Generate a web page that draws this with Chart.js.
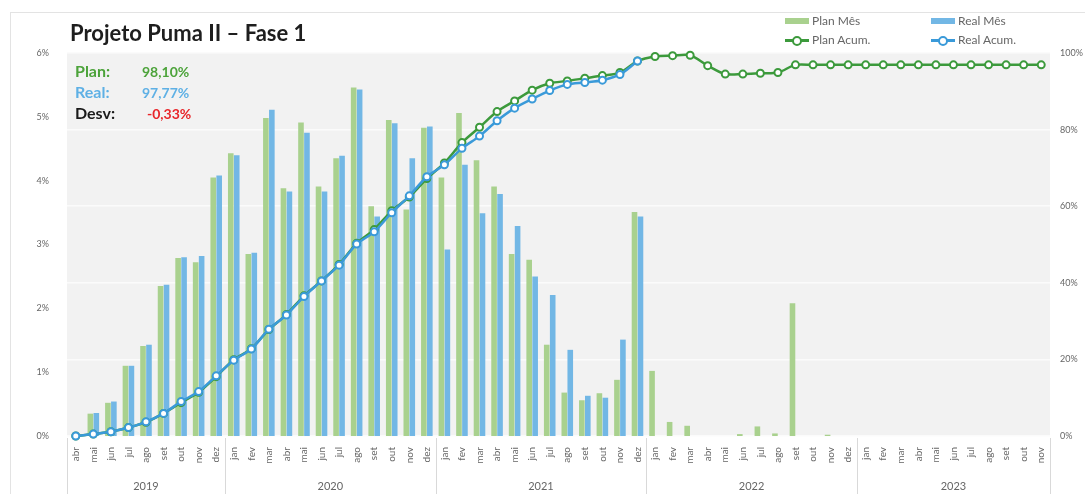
<!DOCTYPE html>
<html lang="pt">
<head>
<meta charset="utf-8">
<title>Projeto Puma II – Fase 1</title>
<script src="https://cdn.jsdelivr.net/npm/chart.js@4.4.1/dist/chart.umd.min.js"></script>
<style>
    html, body { margin: 0; padding: 0; background: #fff; }
    #wrap { position: relative; width: 1085px; height: 494px; overflow: hidden; font-family: Lato, 'Liberation Sans', sans-serif; }
    #frame { position: absolute; left: 10px; top: 12px; width: 1200px; height: 600px; border-left: 1px solid #e3e3e3; border-top: 1px solid #e3e3e3; }
    #chart { position: absolute; left: 0; top: 0; }
    #title { position: absolute; left: 70px; top: 20px; font-size: 22px; line-height: 26px; font-weight: bold; color: #1e1e1e; }
    .stat { position: absolute; left: 75px; font-size: 16px; line-height: 18px; font-weight: bold; }
    .stat span { position: absolute; left: 67px; top: 1px; font-size: 14px; white-space: nowrap; }
    .leg { position: absolute; font-size: 12px; line-height: 14px; color: #666; white-space: nowrap; }
    .leg i { position: absolute; left: 0; top: 4px; width: 24px; height: 6px; }
    .leg b { position: absolute; left: 0; top: 6px; width: 24px; height: 3px; }
    .leg b:after { content: ''; position: absolute; left: 7px; top: -3px; width: 6px; height: 6px; border-radius: 50%; background: #fff; border: 2px solid; border-color: inherit; }
    .leg em { font-style: normal; position: absolute; left: 27px; top: 0; }
</style>
</head>
<body>
<div id="wrap">
    <div id="frame"></div>
    <canvas id="chart" width="1085" height="494"></canvas>
    <div id="title">Projeto Puma II – Fase 1</div>
    <div class="stat" style="top:62px;color:#4ca33a">Plan:<span>98,10%</span></div>
    <div class="stat" style="top:83px;color:#5eb0e5">Real:<span>97,77%</span></div>
    <div class="stat" style="top:104px;color:#1a1a1a">Desv:<span style="color:#e8262a;left:72px">-0,33%</span></div>
    <div id="legend"></div>
</div>
<script>
// Months abr/2019 .. nov/2023
const months = [
    'abr','mai','jun','jul','ago','set','out','nov','dez',
    'jan','fev','mar','abr','mai','jun','jul','ago','set','out','nov','dez',
    'jan','fev','mar','abr','mai','jun','jul','ago','set','out','nov','dez',
    'jan','fev','mar','abr','mai','jun','jul','ago','set','out','nov','dez',
    'jan','fev','mar','abr','mai','jun','jul','ago','set','out','nov'
];
const years = ['2019', '2020', '2021', '2022', '2023'];
const yearMonths = [9, 12, 12, 12, 11];

// Monthly progress (%)
const planMes = [
    0, 0.35, 0.52, 1.10, 1.41, 2.35, 2.79, 2.72, 4.05,
    4.43, 2.85, 4.98, 3.88, 4.91, 3.91, 4.35, 5.46, 3.60, 4.95, 3.55, 4.83,
    4.05, 5.06, 4.32, 3.91, 2.85, 2.76, 1.43, 0.68, 0.56, 0.67, 0.88, 3.51,
    1.02, 0.22, 0.16, 0, 0, 0.03, 0.15, 0.04, 2.08, 0, 0.02, 0,
    0, 0, 0, 0, 0, 0, 0, 0, 0, 0, 0
];
const realMes = [
    0, 0.36, 0.54, 1.10, 1.43, 2.37, 2.80, 2.82, 4.08,
    4.40, 2.87, 5.11, 3.83, 4.75, 3.83, 4.39, 5.43, 3.44, 4.90, 4.35, 4.85,
    2.92, 4.25, 3.49, 3.79, 3.29, 2.50, 2.21, 1.35, 0.63, 0.60, 1.51, 3.44
];

// Cumulative progress (%)
const planAcum = [
    0, 0.5, 1.1, 2.2, 3.6, 5.9, 8.7, 11.4, 15.5,
    19.9, 22.8, 27.8, 31.7, 36.6, 40.5, 44.8, 50.3, 53.9, 58.8, 62.4, 67.2,
    71.3, 76.6, 80.6, 84.7, 87.5, 90.3, 92.1, 92.7, 93.4, 94.1, 94.9, 97.9,
    99.1, 99.3, 99.4, 96.7, 94.5, 94.5, 94.7, 94.9, 96.9, 96.9, 96.9, 96.9,
    96.9, 96.9, 96.9, 96.9, 96.9, 96.9, 96.9, 96.9, 96.9, 96.9, 96.9
];
const realAcum = [
    0, 0.5, 1.1, 2.2, 3.7, 5.9, 9.0, 11.6, 15.7,
    19.8, 22.7, 27.9, 31.6, 36.4, 40.5, 44.6, 50.1, 53.3, 58.3, 62.7, 67.7,
    70.8, 75.1, 78.3, 82.3, 85.6, 88.0, 90.2, 91.8, 92.3, 92.9, 94.4, 97.9
];

const colors = {
    planBar: '#a9d18e',
    realBar: '#72b7e5',
    planLine: '#3c9a3c',
    realLine: '#3a9ad9'
};

// Grey plot background, year row and separators
const framePlugin = {
    id: 'frame',
    beforeDraw(chart) {
        const { ctx, chartArea: a } = chart;
        ctx.save();
        ctx.fillStyle = '#f2f2f2';
        ctx.fillRect(a.left, a.top, a.right - a.left, a.bottom - a.top);
        ctx.restore();
    },
    afterDraw(chart) {
        const { ctx, chartArea: a } = chart;
        const x = chart.scales.x;
        const catW = (x.right - x.left) / months.length;
        ctx.save();
        ctx.strokeStyle = '#d9d9d9';
        ctx.lineWidth = 1;
        ctx.fillStyle = '#666';
        ctx.font = '11px Lato, "Liberation Sans", sans-serif';
        ctx.textAlign = 'center';
        ctx.textBaseline = 'middle';
        let start = 0;
        years.forEach((yr, i) => {
            const x0 = x.left + start * catW;
            const x1 = x.left + (start + yearMonths[i]) * catW;
            ctx.beginPath();
            ctx.moveTo(Math.round(x0) + 0.5, a.bottom + 2);
            ctx.lineTo(Math.round(x0) + 0.5, chart.height);
            ctx.stroke();
            ctx.fillText(yr, (x0 + x1) / 2, 486);
            start += yearMonths[i];
        });
        const xe = x.left + start * catW;
        ctx.beginPath();
        ctx.moveTo(Math.round(xe) + 0.5, a.bottom + 2);
        ctx.lineTo(Math.round(xe) + 0.5, chart.height);
        ctx.stroke();
        ctx.restore();
    }
};

const ctx = document.getElementById('chart').getContext('2d');
const chart = new Chart(ctx, {
    type: 'bar',
    data: {
        labels: months,
        datasets: [
            {
                type: 'line', label: 'Real Acum.', data: realAcum, yAxisID: 'y2', order: 0, clip: false,
                borderColor: colors.realLine, borderWidth: 2.5, tension: 0.3,
                pointRadius: 3.5, pointBorderWidth: 2, pointBackgroundColor: '#fff', pointBorderColor: colors.realLine
            },
            {
                type: 'line', label: 'Plan Acum.', data: planAcum, yAxisID: 'y2', order: 1, clip: false,
                borderColor: colors.planLine, borderWidth: 2.5, tension: 0.3,
                pointRadius: 3.5, pointBorderWidth: 2, pointBackgroundColor: '#fff', pointBorderColor: colors.planLine
            },
            {
                label: 'Plan Mês', data: planMes, yAxisID: 'y', order: 2,
                backgroundColor: colors.planBar, categoryPercentage: 0.68, barPercentage: 0.94
            },
            {
                label: 'Real Mês', data: realMes, yAxisID: 'y', order: 3,
                backgroundColor: colors.realBar, categoryPercentage: 0.68, barPercentage: 0.94
            }
        ]
    },
    options: {
        responsive: false,
        animation: false,
        layout: { padding: { top: 53, left: 0, right: 0, bottom: 0 } },
        plugins: {
            legend: { display: false },
            tooltip: { enabled: false }
        },
        scales: {
            x: {
                grid: { display: false },
                border: { display: false },
                ticks: {
                    autoSkip: false, minRotation: 90, maxRotation: 90, padding: 3,
                    color: '#666', font: { size: 10, family: 'Lato, "Liberation Sans", sans-serif' }
                },
                afterFit(scale) { scale.height = 58; }
            },
            y: {
                position: 'left', min: 0, max: 6,
                grid: { display: false },
                border: { display: false },
                ticks: {
                    stepSize: 1, padding: 10, color: '#666',
                    font: { size: 9, family: 'Lato, "Liberation Sans", sans-serif' },
                    callback: v => v + '%'
                },
                afterFit(scale) { scale.width = 67; }
            },
            y2: {
                position: 'right', min: 0, max: 100,
                grid: { color: '#fbfbfb', lineWidth: 1.5, drawTicks: false },
                border: { display: false },
                ticks: {
                    stepSize: 20, padding: 10, color: '#666',
                    font: { size: 9, family: 'Lato, "Liberation Sans", sans-serif' },
                    callback: v => v + '%'
                },
                afterFit(scale) { scale.width = 35; }
            }
        }
    },
    plugins: [framePlugin]
});

// Legend built from the datasets
const legendPos = {
    'Plan Mês': [785, 14], 'Real Mês': [931, 14],
    'Plan Acum.': [785, 33], 'Real Acum.': [931, 33]
};
const legendEl = document.getElementById('legend');
chart.data.datasets.forEach(ds => {
    const [lx, ly] = legendPos[ds.label];
    const item = document.createElement('div');
    item.className = 'leg';
    item.style.left = lx + 'px';
    item.style.top = ly + 'px';
    const mark = ds.type === 'line'
        ? `<b style="background:${ds.borderColor};border-color:${ds.borderColor}"></b>`
        : `<i style="background:${ds.backgroundColor}"></i>`;
    item.innerHTML = mark + `<em>${ds.label}</em>`;
    legendEl.appendChild(item);
});
</script>
</body>
</html>
